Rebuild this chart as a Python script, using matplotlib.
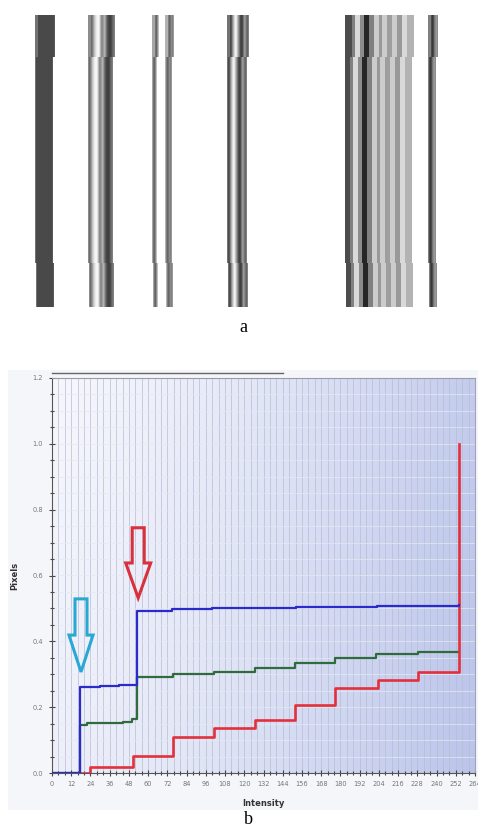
# Barcode strip (a) and cumulative intensity plot (b)

import numpy as np
import matplotlib
matplotlib.use('Agg')
import matplotlib.pyplot as plt
from matplotlib.ticker import MultipleLocator

# ---- panel a: gray stripes, each bar = start column + (width, gray) runs
bars = [
    (35, [(1, 0.45), (16, 0.29), (1, 0.35)]),
    (88, [(1, 0.55), (1, 0.42), (1, 0.5), (1, 0.62), (1, 0.75), (1, 0.85), (1, 0.92),
          (2, 0.96), (1, 0.88), (1, 0.7), (2, 0.55), (1, 0.62), (1, 0.7), (1, 0.6),
          (1, 0.45), (1, 0.35), (1, 0.28), (2, 0.25), (1, 0.3), (1, 0.38), (1, 0.45), (1, 0.5)]),
    (152, [(1, 0.65), (1, 0.45), (1, 0.4), (1, 0.55), (1, 0.75)]),
    (165, [(1, 0.7), (1, 0.5), (1, 0.4), (1, 0.45), (1, 0.55), (1, 0.5), (1, 0.6)]),
    (227, [(1, 0.45), (1, 0.3), (1, 0.35), (1, 0.55), (1, 0.7), (1, 0.85), (1, 0.95),
           (1, 0.9), (1, 0.75), (1, 0.6), (1, 0.45), (1, 0.3), (1, 0.25), (1, 0.3),
           (1, 0.45), (1, 0.6), (1, 0.55), (1, 0.45), (1, 0.4), (1, 0.5)]),
    (345, [(5, 0.3), (3, 0.5), (5, 0.85), (4, 0.55), (5, 0.15), (5, 0.5), (5, 0.8),
           (3, 0.6), (5, 0.8), (5, 0.62), (5, 0.8), (5, 0.6), (5, 0.85), (7, 0.7)]),
    (428, [(1, 0.5), (1, 0.3), (1, 0.22), (1, 0.3), (1, 0.45), (1, 0.55), (1, 0.6), (1, 0.55)]),
]

# ---- panel b: step curves (intensity, fraction of pixels)
blue_x = [0, 17.5, 30, 42, 53, 75, 100, 127, 152, 177, 203, 229, 254]
blue_y = [0, 0.262, 0.265, 0.268, 0.492, 0.497, 0.500, 0.502, 0.503, 0.505, 0.506, 0.508, 0.510]

green_x = [0, 17.5, 22, 44, 50, 53, 75.5, 101, 126.5, 151.5, 176.5, 202.5, 228.5, 254]
green_y = [0, 0.145, 0.152, 0.155, 0.165, 0.291, 0.300, 0.308, 0.320, 0.333, 0.350, 0.361, 0.367, 0.367]

red_x = [0, 24, 50.8, 75.4, 100.8, 126.7, 151.7, 176.7, 203.3, 228.3, 254, 254]
red_y = [0, 0.018, 0.052, 0.110, 0.136, 0.161, 0.207, 0.257, 0.283, 0.308, 0.308, 1.0]

x_ticks = list(range(0, 265, 12))
y_ticks = [0.0, 0.2, 0.4, 0.6, 0.8, 1.0, 1.2]

fig = plt.figure(figsize=(4.78, 8.34), dpi=100)
fig.patch.set_facecolor('white')

# panel a
ax_a = fig.add_axes([0, 1 - 360 / 834, 1, 360 / 834])
ax_a.set_xlim(0, 478)
ax_a.set_ylim(360, 0)
ax_a.axis('off')

img = np.ones((292, 478))
band_rows = [(0, 42, 2, 0), (42, 248, 0, 0), (248, 292, 0, 1)]  # rows, extend, offset
for x0, runs in bars:
    prof = np.repeat([g for w, g in runs], [w for w, g in runs])
    for r0, r1, ext, off in band_rows:
        p = np.concatenate([np.full(ext, prof[0]), prof])
        img[r0:r1, x0 + off:x0 + off + len(p)] = p
ax_a.imshow(img, cmap='gray', vmin=0, vmax=1, extent=(0, 478, 307, 15),
            interpolation='bilinear', aspect='auto')
ax_a.text(243, 327, 'a', ha='center', va='center', fontsize=13, family='Liberation Serif')

# background of panel b (separate axes behind the plot)
ax_bg = fig.add_axes([8 / 478, (834 - 810) / 834, 470 / 478, 440 / 834], zorder=-1)
ax_bg.set_facecolor('#f5f6fa')
ax_bg.set_xticks([])
ax_bg.set_yticks([])
for s in ax_bg.spines.values():
    s.set_visible(False)

ax = fig.add_axes([52 / 478, 61 / 834, 423 / 478, 395 / 834])
ax.set_xlim(0, 264)
ax.set_ylim(0, 1.2)

# blue-ish gradient in plot area
tx = np.linspace(0, 1, 256)
ty = np.linspace(0, 1, 128)[:, None]
t = np.clip(tx[None, :] ** 1.3 * 0.85 + (1 - ty) * 0.15, 0, 1)
c0 = np.array([0.965, 0.97, 0.99])
c1 = np.array([0.73, 0.77, 0.92])
grad = c0 + (c1 - c0) * t[..., None]
ax.imshow(grad, extent=(0, 264, 0, 1.2), origin='lower', aspect='auto', zorder=0)

for xv in np.arange(4, 264, 4):
    ax.axvline(xv, color='#b8bcd2', lw=0.5, zorder=1)
for yv in np.arange(0.05, 1.2, 0.05):
    ax.axhline(yv, color='#e6e8f2', lw=0.5, zorder=1)

ax.step(green_x, green_y, where='post', color='#2f6b3c', lw=1.6, zorder=3)
ax.step(red_x, red_y, where='post', color='#e4303c', lw=1.9, zorder=4)
ax.step(blue_x, blue_y, where='post', color='#2b2bcc', lw=1.6, zorder=5)

# outlined arrows
ax.arrow(18.1, 0.529, 0, 0.307 - 0.529, width=7.5, head_width=15, head_length=0.112,
         length_includes_head=True, fc='none', ec='#2aa8d4', lw=2.2, zorder=6)
ax.arrow(53.8, 0.745, 0, 0.532 - 0.745, width=7.5, head_width=15.6, head_length=0.106,
         length_includes_head=True, fc='none', ec='#d8303c', lw=2.2, zorder=6)

ax.set_xticks(x_ticks)
ax.set_yticks(y_ticks)
ax.set_yticklabels(['%.1f' % v for v in y_ticks])
ax.xaxis.set_minor_locator(MultipleLocator(4))
ax.yaxis.set_minor_locator(MultipleLocator(0.05))
ax.tick_params(which='both', direction='inout', colors='#444444', labelcolor='#777777',
               labelsize=4.8, width=0.8)
ax.tick_params(which='major', length=5)
ax.tick_params(which='minor', length=3)
ax.tick_params(axis='y', pad=4)
ax.tick_params(axis='x', pad=3)

for s in ['left', 'bottom']:
    ax.spines[s].set_color('#555555')
ax.spines['top'].set_color('#9a9aa8')
ax.spines['right'].set_color('#a0a4b8')

ax.set_ylabel('Pixels', fontsize=6, fontweight='bold', color='#333333')
ax.yaxis.set_label_coords(-0.078, 0.5)
ax.set_xlabel('Intensity', fontsize=6, fontweight='bold', color='#333333')
ax.xaxis.set_label_coords(0.5, -0.066)

# dark line above the top edge
ax.plot([0, 0.545], [1.012, 1.012], transform=ax.transAxes, color='#666666',
        lw=1.0, clip_on=False)

fig.text(248 / 478, 1 - 820 / 834, 'b', ha='center', va='center', fontsize=13,
         family='Liberation Serif')

fig.savefig('out.png', dpi=100)
